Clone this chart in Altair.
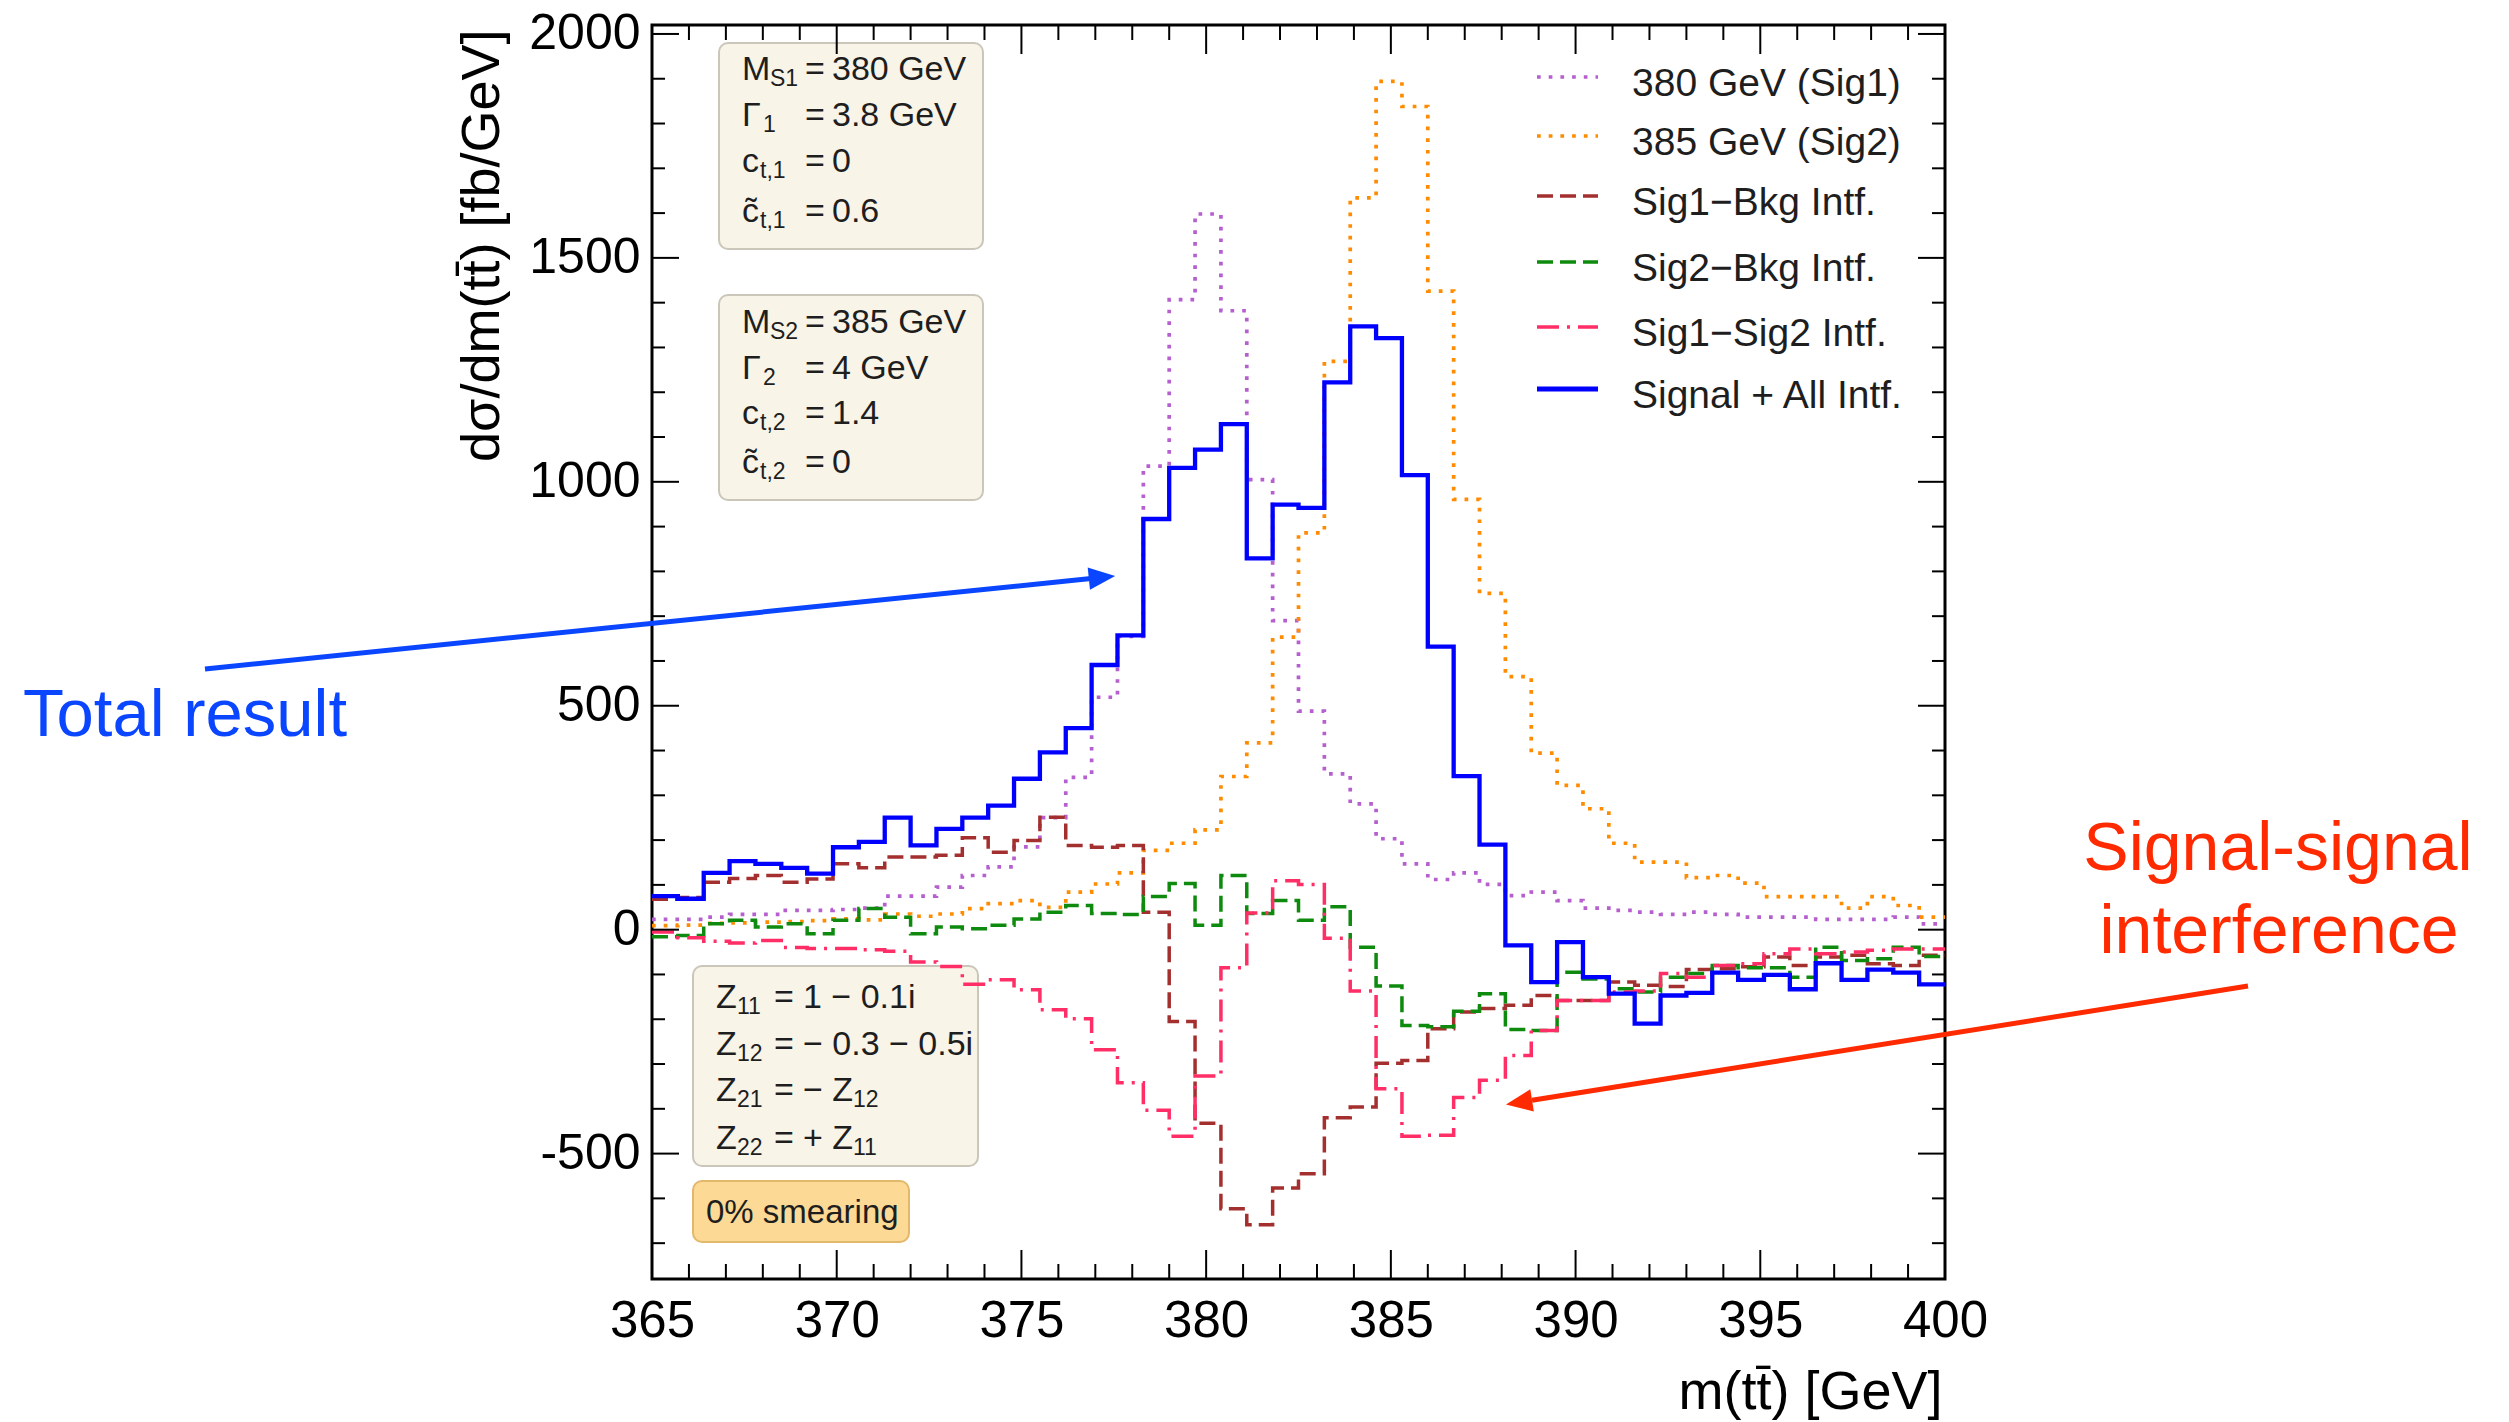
import altair as alt
import pandas as pd

# ---------------- data ----------------
X_MIN, X_MAX = 365.0, 400.0
BIN_WIDTH = 0.7
Y_MIN, Y_MAX = -780, 2020

sig1 = [23, 23, 28, 34, 34, 43, 43, 45, 48, 75, 75, 95, 121, 140, 185, 250, 340, 519, 655, 1035,
        1407, 1598, 1382, 1005, 690, 488, 348, 281, 203, 147, 112, 127, 101, 76, 84, 65, 48, 43, 39, 34,
        39, 34, 28, 28, 28, 23, 23, 23, 28, 13]
sig2 = [9, 10, 14, 15, 17, 18, 20, 24, 22, 35, 30, 35, 47, 58, 65, 50, 84, 102, 127,
        177, 193, 223, 342, 417, 653, 886, 1269, 1634, 1894, 1838, 1426, 961, 751, 565, 394, 322, 270, 193, 151,
        151, 116, 121, 104, 74, 74, 74, 48, 74, 54, 28]
sig1_bkg = [68, 72, 106, 114, 121, 106, 113, 147, 138, 162, 162, 166, 205, 173, 199, 251, 188, 184, 188,
            39, -205, -432, -623, -659, -577, -545, -420, -396, -298, -292, -221, -184, -176, -169, -147,
            -158, -158, -117, -124, -127, -89, -87, -83, -61, -80, -61, -57, -76, -80, -57]
sig2_bkg = [-16, -13, 13, 21, 6, 13, -9, 21, 47, 28, -9, 6, 2, 10, 24, 39, 54, 36, 34,
            74, 103, 10, 121, 36, 65, 21, 51, -39, -126, -214, -217, -182, -143, -223, -225, -95, -110,
            -132, -139, -106, -98, -80, -85, -85, -106, -39, -69, -65, -39, -60]
sig1_sig2 = [-5, -18, -26, -30, -24, -40, -42, -42, -45, -48, -72, -82, -122, -112, -134, -179, -199, -268, -342,
             -403, -461, -327, -85, 37, 109, 101, -19, -137, -355, -461, -459, -375, -336, -281, -225, -158,
             -158, -139, -137, -98, -106, -80, -76, -54, -43, -54, -50, -46, -43, -43]
total = [75, 69, 127, 153, 147, 138, 125, 184, 196, 250, 188, 225, 250, 277, 337, 396, 450, 591, 657, 917,
         1031, 1072, 1129, 829, 949, 942, 1222, 1347, 1321, 1015, 632, 343, 190, -35, -117, -28, -106, -143, -210, -147,
         -141, -96, -112, -101, -133, -75, -112, -89, -96, -122]

series_labels = ["380 GeV (Sig1)", "385 GeV (Sig2)", "Sig1\u2212Bkg Intf.", "Sig2\u2212Bkg Intf.",
                 "Sig1\u2212Sig2 Intf.", "Signal + All Intf."]
x_major = list(range(365, 401, 5))
x_minor = [v for v in range(366, 400) if v % 5 != 0]
y_major = list(range(-500, 2001, 500))
y_minor = [v for v in range(-700, 2001, 100) if v % 500 != 0]

# ---------------- layout / style ----------------
CANVAS_W, CANVAS_H = 2509, 1422
PAD_L, PAD_T = 652, 25
W, H = 1293, 1254
PAD_R = CANVAS_W - PAD_L - W
PAD_B = CANVAS_H - PAD_T - H
FONT = "Liberation Sans"
TXT = "#1e1e1e"

styles = [
    (sig1, "#B65FCF", 3.7, [3.7, 8.0]),
    (sig2, "#FF8C00", 3.7, [3.7, 8.0]),
    (sig1_bkg, "#A3302F", 3.5, [16, 7]),
    (sig2_bkg, "#0E8A0E", 3.5, [16, 7]),
    (sig1_sig2, "#FF2E66", 3.5, [22, 8, 3, 8]),
    (total, "#0000FF", 4.3, None),
]

xs = alt.Scale(domain=[X_MIN, X_MAX], nice=False, zero=False)
ys = alt.Scale(domain=[Y_MIN, Y_MAX], nice=False, zero=False)

x_axis = alt.Axis(values=x_major, ticks=False, tickSize=0, domain=False, grid=False,
                  labelFont=FONT, labelFontSize=51, labelColor="black", labelPadding=17,
                  labelFlush=False, labelOverlap=False,
                  title="m(tt\u0304) [GeV]", titleFont=FONT, titleFontSize=54, titleFontWeight="normal",
                  titleColor="black", titleAlign="right", titleBaseline="alphabetic",
                  titleX=W - 3, titleY=129)
y_axis = alt.Axis(values=y_major, ticks=False, tickSize=0, domain=False, grid=False,
                  labelFont=FONT, labelFontSize=50, labelColor="black", labelPadding=12,
                  labelExpr="'' + datum.value", labelOverlap=False,
                  title="d\u03c3/dm(tt\u0304) [fb/GeV]", titleFont=FONT, titleFontSize=54,
                  titleFontWeight="normal", titleColor="black", titleAngle=270,
                  titleAlign="right", titleBaseline="alphabetic", titleX=-154, titleY=4)

X = alt.X("m:Q", scale=xs, axis=x_axis)
Y = alt.Y("v:Q", scale=ys, axis=y_axis)

ONE = pd.DataFrame({"d": [0]})


def steps(vals):
    edges = [X_MIN + BIN_WIDTH * i for i in range(len(vals) + 1)]
    return pd.DataFrame({"m": edges, "v": list(vals) + [vals[-1]]})


def text_at(s, x, y, size, color=TXT, align="left", baseline="alphabetic"):
    return alt.Chart(ONE).mark_text(text=s, font=FONT, fontSize=size, color=color,
                                    align=align, baseline=baseline).encode(
        x=alt.value(x - PAD_L), y=alt.value(y - PAD_T))


def box(x0, y0, x1, y1, fill, stroke):
    return alt.Chart(ONE).mark_rect(fill=fill, stroke=stroke, strokeWidth=2, cornerRadius=9).encode(
        x=alt.value(x0 - PAD_L), x2=alt.value(x1 - PAD_L),
        y=alt.value(y0 - PAD_T), y2=alt.value(y1 - PAD_T))


def seg(x0, y0, x1, y1, color, width, dash=None):
    kw = dict(color=color, strokeWidth=width, strokeCap="butt")
    if dash:
        kw["strokeDash"] = dash
    return alt.Chart(ONE).mark_rule(**kw).encode(
        x=alt.value(x0 - PAD_L), x2=alt.value(x1 - PAD_L),
        y=alt.value(y0 - PAD_T), y2=alt.value(y1 - PAD_T))


def head(x, y, angle, color, size=700):
    return alt.Chart(ONE).mark_point(shape="M -1 -0.85 L 1 0 L -1 0.85 Z", filled=True, fill=color,
                                     opacity=1, strokeWidth=0, size=size, angle=angle).encode(
        x=alt.value(x - PAD_L), y=alt.value(y - PAD_T))


layers = []

# parameter boxes
layers.append(box(719, 43, 983, 249, "#F8F4E8", "#CBC6BA"))
layers.append(box(719, 295, 983, 500, "#F8F4E8", "#CBC6BA"))
layers.append(box(693, 966, 978, 1166, "#F8F4E8", "#CBC6BA"))
layers.append(box(693, 1181, 909, 1242, "#FCD995", "#E2B96C"))

MAIN, SUB = 34, 23


def param_row(sym, sub, val, base, x_sym, x_sub, x_eq, x_val, extra_sub=None):
    out = [text_at(sym, x_sym, base, MAIN), text_at(sub, x_sub, base + 6, SUB),
           text_at("=", x_eq, base, MAIN), text_at(val, x_val, base, MAIN)]
    if extra_sub is not None:
        out.append(text_at(extra_sub[0], extra_sub[1], base + 6, SUB))
    return out


for sym, sub, val, base, xsub in [("M", "S1", "380 GeV", 80, 770), ("\u0393", "1", "3.8 GeV", 126, 763),
                                  ("c", "t,1", "0", 172, 760), ("c\u0303", "t,1", "0.6", 222, 760),
                                  ("M", "S2", "385 GeV", 333, 770), ("\u0393", "2", "4 GeV", 379, 763),
                                  ("c", "t,2", "1.4", 424, 760), ("c\u0303", "t,2", "0", 473, 760)]:
    layers += param_row(sym, sub, val, base, 742, xsub, 805, 832)

layers += param_row("Z", "11", "1 \u2212 0.1i", 1008, 716, 737, 774, 803)
layers += param_row("Z", "12", "\u2212 0.3 \u2212 0.5i", 1055, 716, 737, 774, 803)
layers += param_row("Z", "21", "\u2212 Z", 1101, 716, 737, 774, 803, extra_sub=("12", 853))
layers += param_row("Z", "22", "+ Z", 1149, 716, 737, 774, 803, extra_sub=("11", 853))
layers.append(text_at("0% smearing", 706, 1223, 33))

# histograms
for vals, color, width, dash in styles:
    kw = dict(interpolate="step-after", color=color, strokeWidth=width, strokeCap="butt", clip=True)
    if dash:
        kw["strokeDash"] = dash
    layers.append(alt.Chart(steps(vals)).mark_line(**kw).encode(x=X, y=Y))

# inward ticks on all four sides
def xticks(vals, length, top):
    y0, y1 = (0, length) if top else (H, H - length)
    return alt.Chart(pd.DataFrame({"m": vals})).mark_rule(color="black", strokeWidth=2).encode(
        x=X, y=alt.value(y0), y2=alt.value(y1))


def yticks(vals, length, right):
    x0, x1 = (W, W - length) if right else (0, length)
    return alt.Chart(pd.DataFrame({"v": vals})).mark_rule(color="black", strokeWidth=2).encode(
        y=Y, x=alt.value(x0), x2=alt.value(x1))


for top in (False, True):
    layers.append(xticks(x_major, 29, top))
    layers.append(xticks(x_minor, 15, top))
for right in (False, True):
    layers.append(yticks(y_major, 27, right))
    layers.append(yticks(y_minor, 13, right))

# legend
leg_y = [77, 136, 196, 262, 327, 389]
for (vals, color, width, dash), label, yy in zip(styles, series_labels, leg_y):
    lw = 5 if dash is None else width
    layers.append(seg(1537, yy, 1598, yy, color, lw, dash))
    layers.append(text_at(label, 1632, yy + 7, 39, color=TXT, baseline="middle"))

# annotations outside the frame
BLUE_A = "#0A46FF"
RED_A = "#FF2A00"
layers.append(seg(205, 669, 1091, 578.5, BLUE_A, 5))
layers.append(head(1102, 577.3, 354.2, BLUE_A))
layers.append(text_at("Total result", 185, 736, 67, color=BLUE_A, align="center"))

layers.append(seg(2248, 986, 1532, 1100.3, RED_A, 5))
layers.append(head(1519, 1102.5, 170.9, RED_A))
layers.append(text_at("Signal-signal", 2278, 870, 68, color=RED_A, align="center"))
layers.append(text_at("interference", 2279, 953, 68, color=RED_A, align="center"))

chart = alt.layer(*layers).properties(
    width=W, height=H,
    padding={"left": PAD_L, "top": PAD_T, "right": PAD_R, "bottom": PAD_B},
    autosize=alt.AutoSizeParams(type="none"),
    background="white",
).configure_view(stroke="black", strokeWidth=3)

chart.save("out.html", embed_options={"renderer": "svg", "actions": False})
